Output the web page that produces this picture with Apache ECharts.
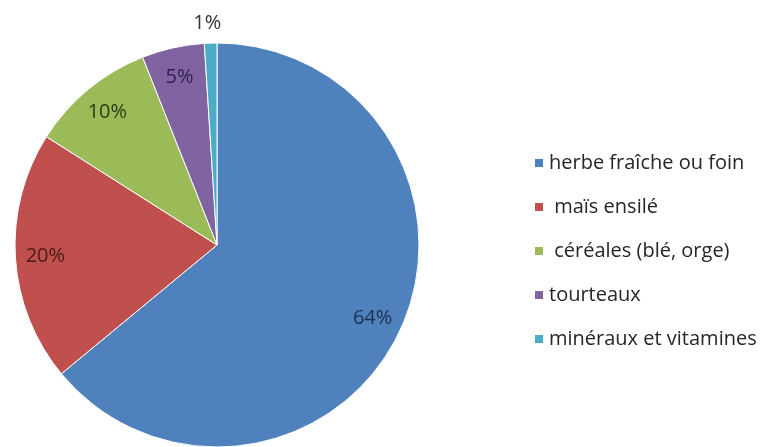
<!DOCTYPE html>
<html>
<head>
<meta charset="utf-8">
<script src="https://cdn.jsdelivr.net/npm/echarts@6/dist/echarts.min.js"></script>
<style>
  html, body { margin: 0; padding: 0; background: #fff; }
  #chart { width: 770px; height: 447px; }
</style>
</head>
<body>
<div id="chart"></div>
<script>
// rations : part de chaque aliment (%)
const names  = ['herbe fraîche ou foin', ' maïs ensilé', ' céréales (blé, orge)', 'tourteaux', 'minéraux et vitamines'];
const values = [64, 20, 10, 5, 1];
const colors = ['#4f81bd', '#c0504d', '#9bbb59', '#8064a2', '#4bacc6'];
const labelColors = ['#1c2f4f', '#4a1a1a', '#2c3d14', '#2e1f4a', '#333333'];

const font = '"Open Sans", "Liberation Sans", sans-serif';

const chart = echarts.init(document.getElementById('chart'), null, { renderer: 'canvas' });

const pieData = names.map((n, i) => ({
  name: n, value: values[i], itemStyle: { color: colors[i] },
}));

// série invisible pour placer les étiquettes vers le bord
const labelData = names.map((n, i) => ({
  name: n, value: values[i],
  label: i === 4
    ? { position: 'outside', color: labelColors[i] }
    : { position: 'inside', color: labelColors[i] },
  labelLine: { show: false, length: 12, length2: 0 },
}));

chart.setOption({
  animation: false,
  backgroundColor: '#fff',
  legend: {
    orient: 'vertical',
    left: 528,
    top: 148,
    icon: 'rect',
    itemWidth: 10,
    itemHeight: 10,
    itemGap: 24,
    data: names,
    textStyle: { color: '#262626', fontSize: 20, fontFamily: font },
  },
  series: [
    {
      type: 'pie',
      center: [217, 245],
      radius: 202,
      startAngle: 90,
      clockwise: true,
      silent: true,
      label: { show: false },
      labelLine: { show: false },
      itemStyle: { borderColor: '#fff', borderWidth: 1 },
      data: pieData,
    },
    {
      type: 'pie',
      center: [217, 245],
      radius: [136, 202],
      startAngle: 90,
      clockwise: true,
      silent: true,
      itemStyle: { color: 'transparent' },
      label: {
        show: true,
        formatter: '{c}%',
        fontSize: 20,
        fontFamily: font,
      },
      // le « 1% » est centré au-dessus de sa tranche
      labelLayout: (p) => (p.dataIndex === 4 ? { dx: 16, dy: -8 } : {}),
      data: labelData,
    },
  ],
});
</script>
</body>
</html>
